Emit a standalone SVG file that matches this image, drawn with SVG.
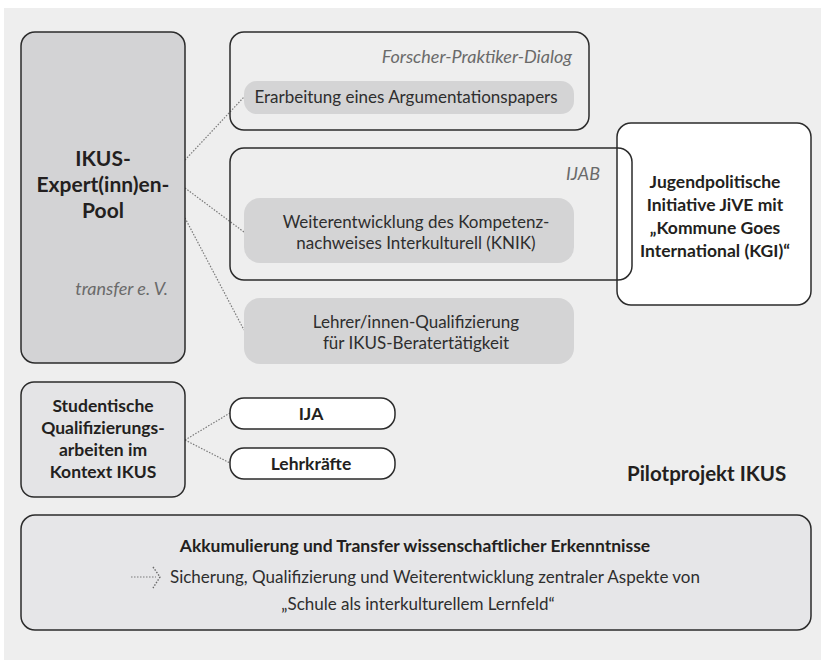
<svg xmlns="http://www.w3.org/2000/svg" width="823" height="660" viewBox="0 0 823 660">
<style>
text{font-family:Lato,"Open Sans","Liberation Sans",sans-serif;fill:#2e2e2e}
.b{font-weight:bold;fill:#231f20}
.i{font-style:italic;fill:#6a6a6a}
.box{stroke:#2b2b2b;stroke-width:1.5}
.pill{fill:#d4d4d5;stroke:none}
.dot{stroke:#7a7a7a;stroke-width:1.2;stroke-dasharray:1.5 1.5;fill:none}
.m{text-anchor:middle}
.e{text-anchor:end}
</style>
<rect x="4" y="8" width="817" height="652" fill="#eeeeee"/>
<g id="connectors">
<line class="dot" x1="185" y1="160" x2="244" y2="97"/>
<line class="dot" x1="185" y1="188" x2="244" y2="232"/>
<line class="dot" x1="185" y1="218" x2="244" y2="330"/>
<line class="dot" x1="185" y1="440" x2="230" y2="413"/>
<line class="dot" x1="185" y1="440" x2="230" y2="463"/>
</g>
<g id="ikus-pool">
<rect class="box" x="21" y="32" width="164" height="331" rx="14" fill="#d3d3d5"/>
<text class="b m" x="103" y="166" font-size="21">IKUS-</text>
<text class="b m" x="103" y="192" font-size="21">Expert(inn)en-</text>
<text class="b m" x="103" y="218" font-size="21">Pool</text>
<text class="i e" x="168" y="295" font-size="18">transfer e. V.</text>
</g>
<g id="forscher">
<rect class="box" x="230" y="32" width="359" height="98" rx="14" fill="none"/>
<text class="i e" x="572" y="63" font-size="18">Forscher-Praktiker-Dialog</text>
</g>
<g id="erarbeitung">
<rect class="pill" x="244" y="81" width="330" height="33" rx="13"/>
<text class="m" x="406" y="103" font-size="17">Erarbeitung eines Argumentationspapers</text>
</g>
<g id="jugend">
<rect class="box" x="617" y="123" width="194" height="182" rx="14" fill="#ffffff"/>
<text class="b m" x="715" y="188" font-size="17.5">Jugendpolitische</text>
<text class="b m" x="715" y="211" font-size="17.5">Initiative JiVE mit</text>
<text class="b m" x="715" y="234" font-size="17.5">„Kommune Goes</text>
<text class="b m" x="715" y="257" font-size="17.5">International (KGI)“</text>
</g>
<g id="ijab">
<rect class="box" x="230" y="148" width="402" height="132" rx="14" fill="none"/>
<text class="i e" x="600" y="180" font-size="18">IJAB</text>
</g>
<g id="knik">
<rect class="pill" x="244" y="198" width="330" height="65" rx="16"/>
<text class="m" x="416" y="228" font-size="17">Weiterentwicklung des Kompetenz-</text>
<text class="m" x="416" y="249" font-size="17">nachweises Interkulturell (KNIK)</text>
</g>
<g id="lehrer">
<rect class="pill" x="244" y="298" width="330" height="66" rx="16"/>
<text class="m" x="416" y="328" font-size="17">Lehrer/innen-Qualifizierung</text>
<text class="m" x="416" y="349" font-size="17">für IKUS-Beratertätigkeit</text>
</g>
<g id="studentische">
<rect class="box" x="21" y="382" width="164" height="115" rx="13" fill="#e4e4e6"/>
<text class="b m" x="103" y="412" font-size="17.5">Studentische</text>
<text class="b m" x="103" y="434" font-size="17.5">Qualifizierungs-</text>
<text class="b m" x="103" y="456" font-size="17.5">arbeiten im</text>
<text class="b m" x="103" y="478" font-size="17.5">Kontext IKUS</text>
</g>
<g id="ija">
<rect class="box" x="230" y="398" width="165" height="31" rx="14" fill="#ffffff"/>
<text class="b m" x="311" y="420" font-size="17.5">IJA</text>
</g>
<g id="lehrkraefte">
<rect class="box" x="230" y="448" width="165" height="31" rx="14" fill="#ffffff"/>
<text class="b m" x="311" y="470" font-size="17.5">Lehrkräfte</text>
</g>
<g id="pilot">
<text class="b" x="627" y="481" font-size="20.5">Pilotprojekt IKUS</text>
</g>
<g id="akkumulierung">
<rect class="box" x="21" y="515" width="790" height="115" rx="14" fill="#e6e6e8"/>
<text class="b m" x="415" y="552" font-size="17.5">Akkumulierung und Transfer wissenschaftlicher Erkenntnisse</text>
<path class="dot" d="M131 577 H156" />
<path d="M153 567 L160 577 L153 588" fill="none" stroke="#6a6a6a" stroke-width="1.4" stroke-dasharray="1.5 1.5"/>
<text class="m" x="435" y="583" font-size="17">Sicherung, Qualifizierung und Weiterentwicklung zentraler Aspekte von</text>
<text class="m" x="418" y="610" font-size="17">„Schule als interkulturellem Lernfeld“</text>
</g>
</svg>
